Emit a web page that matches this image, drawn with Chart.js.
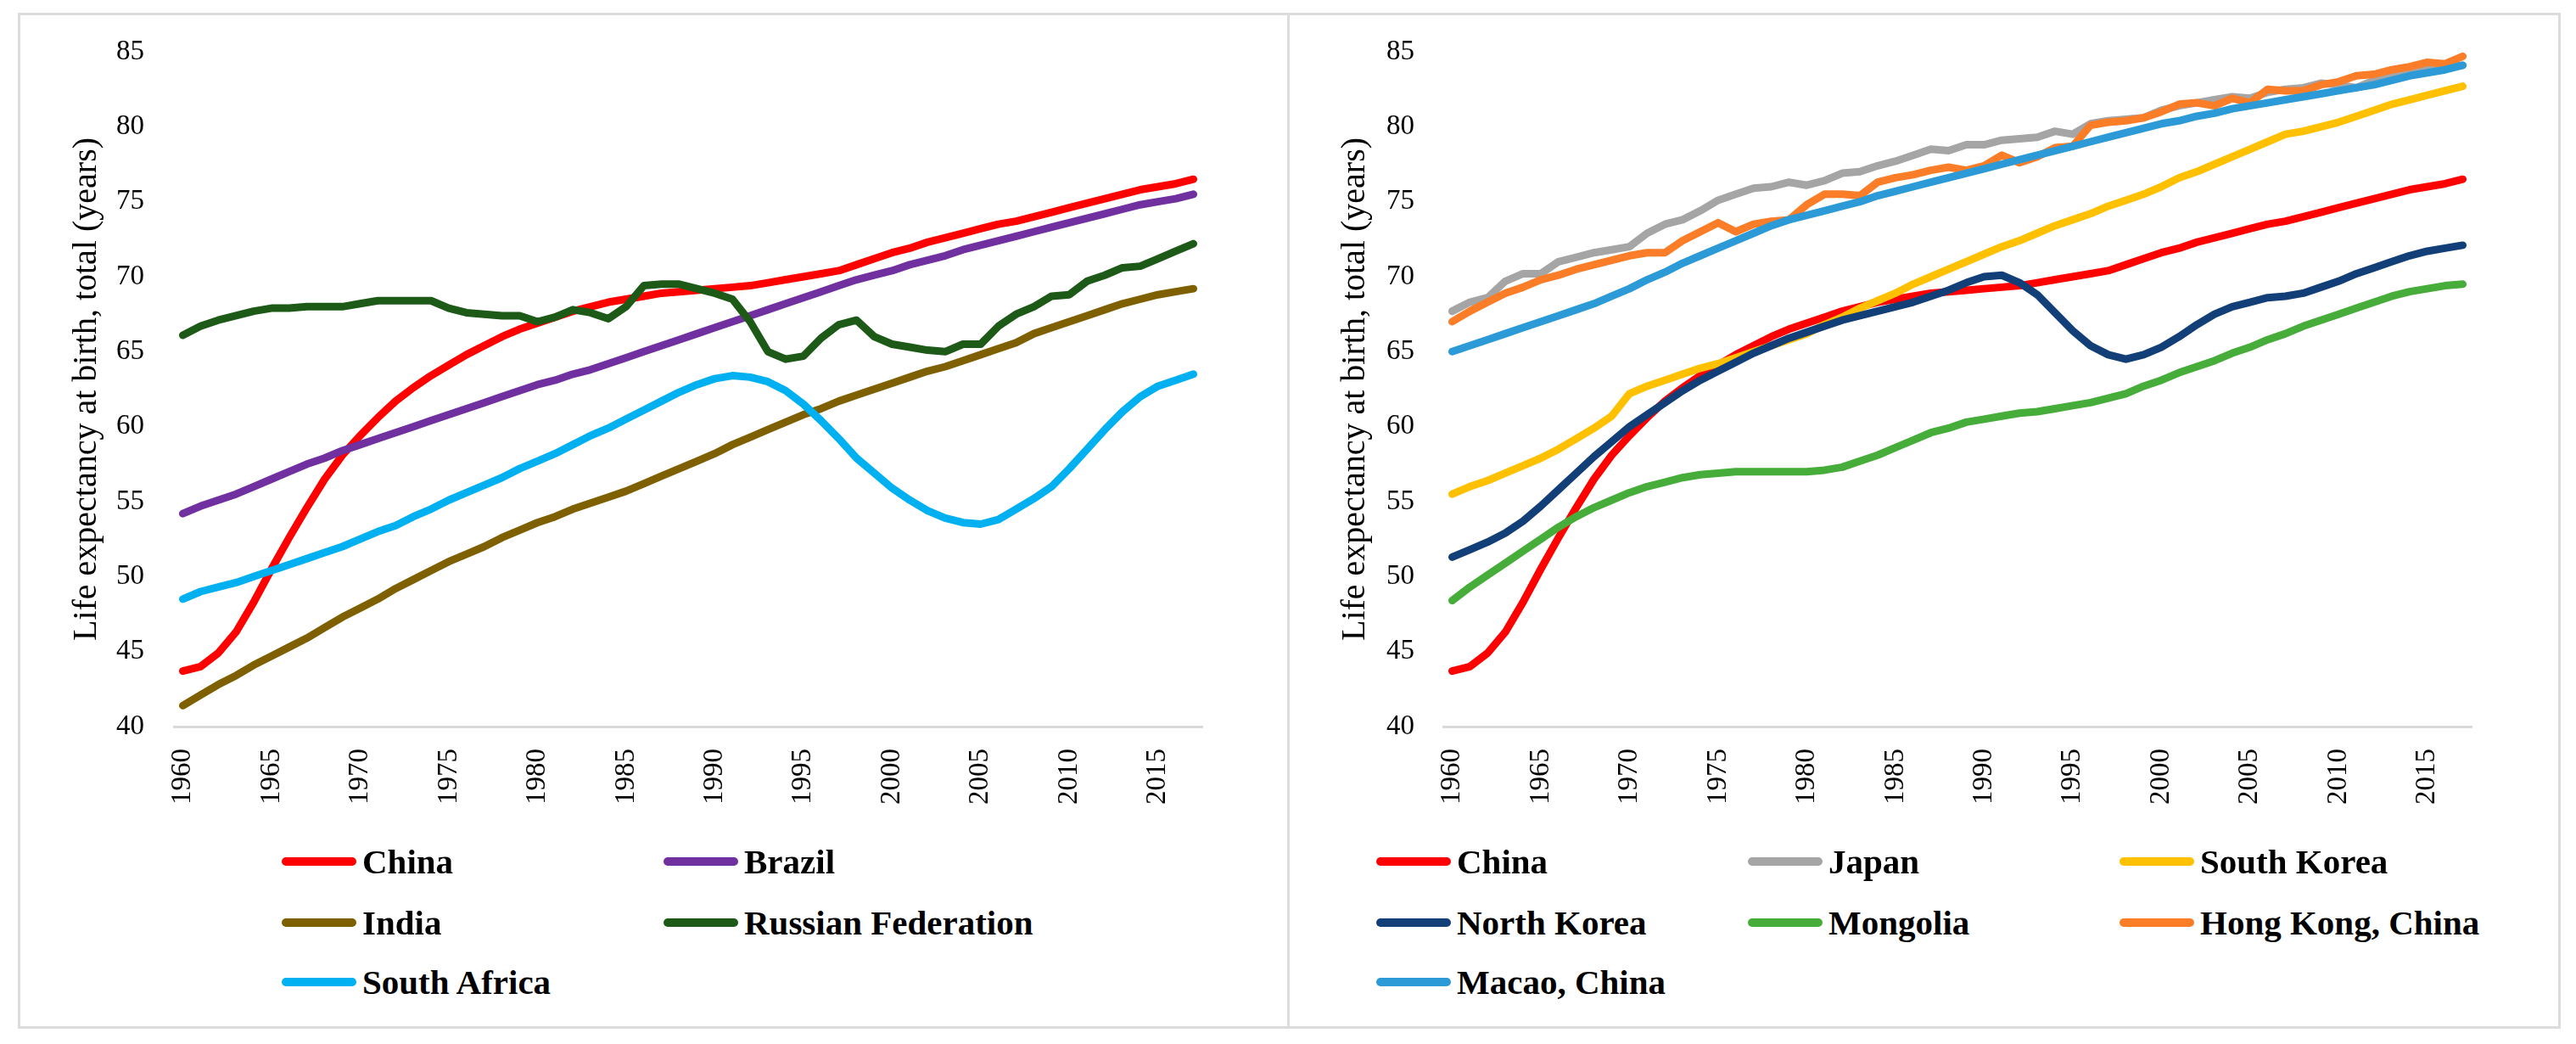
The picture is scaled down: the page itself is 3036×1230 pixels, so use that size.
<!DOCTYPE html>
<html>
<head>
<meta charset="utf-8">
<script src="https://cdn.jsdelivr.net/npm/chart.js@4.4.1/dist/chart.umd.min.js"></script>
<style>
  html, body { margin: 0; padding: 0; background: #ffffff; }
  body { width: 3036px; height: 1230px; position: relative; overflow: hidden; font-family: 'Liberation Serif', 'Times New Roman', serif; }
  .frame { position: absolute; left: 21px; top: 15px; width: 2997px; height: 1197px; border: 3px solid #dcdcdc; box-sizing: border-box; }
  .divider { position: absolute; left: 1517px; top: 15px; width: 3px; height: 1197px; background: #dcdcdc; }
  canvas { position: absolute; top: 0; }
  .leg { position: absolute; height: 50px; display: flex; align-items: center; white-space: nowrap; font-weight: bold; font-size: 41px; color: #000; }
  .leg .ln { display: inline-block; width: 88px; height: 10px; border-radius: 5px; margin-right: 7px; }
</style>
</head>
<body>
<div class="frame"></div>
<div class="divider"></div>
<canvas id="c1" width="1516" height="1000" style="left:0px;width:1516px;height:1000px"></canvas>
<canvas id="c2" width="1496" height="1000" style="left:1520px;width:1496px;height:1000px"></canvas>
<div id="legends"></div>
<script>
// ---------- DATA ----------
const years = ['1960','1961','1962','1963','1964','1965','1966','1967','1968','1969',
  '1970','1971','1972','1973','1974','1975','1976','1977','1978','1979',
  '1980','1981','1982','1983','1984','1985','1986','1987','1988','1989',
  '1990','1991','1992','1993','1994','1995','1996','1997','1998','1999',
  '2000','2001','2002','2003','2004','2005','2006','2007','2008','2009',
  '2010','2011','2012','2013','2014','2015','2016','2017'];
const xTickLabels = ['1960','1965','1970','1975','1980','1985','1990','1995','2000','2005','2010','2015'];
const axisTitle = 'Life expectancy at birth, total (years)';

const china = [43.7,44.0,44.9,46.3,48.3,50.5,52.6,54.6,56.5,58.1,
  59.4,60.6,61.7,62.6,63.4,64.1,64.8,65.4,66.0,66.5,
  66.9,67.3,67.7,68.0,68.3,68.5,68.7,68.9,69.0,69.1,
  69.2,69.3,69.4,69.6,69.8,70.0,70.2,70.4,70.8,71.2,
  71.6,71.9,72.3,72.6,72.9,73.2,73.5,73.7,74.0,74.3,
  74.6,74.9,75.2,75.5,75.8,76.0,76.2,76.5];
const brazil = [54.2,54.7,55.1,55.5,56.0,56.5,57.0,57.5,57.9,58.4,
  58.8,59.2,59.6,60.0,60.4,60.8,61.2,61.6,62.0,62.4,
  62.8,63.1,63.5,63.8,64.2,64.6,65.0,65.4,65.8,66.2,
  66.6,67.0,67.4,67.8,68.2,68.6,69.0,69.4,69.8,70.1,
  70.4,70.8,71.1,71.4,71.8,72.1,72.4,72.7,73.0,73.3,
  73.6,73.9,74.2,74.5,74.8,75.0,75.2,75.5];
const india = [41.4,42.1,42.8,43.4,44.1,44.7,45.3,45.9,46.6,47.3,
  47.9,48.5,49.2,49.8,50.4,51.0,51.5,52.0,52.6,53.1,
  53.6,54.0,54.5,54.9,55.3,55.7,56.2,56.7,57.2,57.7,
  58.2,58.8,59.3,59.8,60.3,60.8,61.2,61.7,62.1,62.5,
  62.9,63.3,63.7,64.0,64.4,64.8,65.2,65.6,66.2,66.6,
  67.0,67.4,67.8,68.2,68.5,68.8,69.0,69.2];
const russia = [66.1,66.7,67.1,67.4,67.7,67.9,67.9,68.0,68.0,68.0,
  68.2,68.4,68.4,68.4,68.4,67.9,67.6,67.5,67.4,67.4,
  67.0,67.3,67.8,67.6,67.2,68.0,69.4,69.5,69.5,69.2,
  68.9,68.5,67.0,65.0,64.5,64.7,65.9,66.8,67.1,66.0,
  65.5,65.3,65.1,65.0,65.5,65.5,66.7,67.5,68.0,68.7,
  68.8,69.7,70.1,70.6,70.7,71.2,71.7,72.2];
const southAfrica = [48.5,49.0,49.3,49.6,50.0,50.4,50.8,51.2,51.6,52.0,
  52.5,53.0,53.4,54.0,54.5,55.1,55.6,56.1,56.6,57.2,
  57.7,58.2,58.8,59.4,59.9,60.5,61.1,61.7,62.3,62.8,
  63.2,63.4,63.3,63.0,62.4,61.5,60.4,59.2,57.9,56.9,
  55.9,55.1,54.4,53.9,53.6,53.5,53.8,54.5,55.2,56.0,
  57.2,58.5,59.8,61.0,62.0,62.7,63.1,63.5];

const japan = [67.7,68.3,68.6,69.7,70.2,70.2,71.0,71.3,71.6,71.8,
  72.0,72.9,73.5,73.8,74.4,75.1,75.5,75.9,76.0,76.3,
  76.1,76.4,76.9,77.0,77.4,77.7,78.1,78.5,78.4,78.8,
  78.8,79.1,79.2,79.3,79.7,79.5,80.2,80.4,80.5,80.6,
  81.1,81.4,81.6,81.8,82.0,81.9,82.3,82.5,82.6,82.9,
  82.8,82.6,83.1,83.3,83.6,83.8,84.0,84.1];
const southKorea = [55.5,56.0,56.4,56.9,57.4,57.9,58.5,59.2,59.9,60.7,
  62.2,62.7,63.1,63.5,63.9,64.2,64.6,65.0,65.4,65.8,
  66.2,66.8,67.3,67.9,68.4,68.9,69.5,70.0,70.5,71.0,
  71.5,72.0,72.4,72.9,73.4,73.8,74.2,74.7,75.1,75.5,
  76.0,76.6,77.0,77.5,78.0,78.5,79.0,79.5,79.7,80.0,
  80.3,80.7,81.1,81.5,81.8,82.1,82.4,82.7];
const northKorea = [51.3,51.8,52.3,52.9,53.7,54.7,55.8,56.9,58.0,59.0,
  60.0,60.8,61.6,62.4,63.1,63.7,64.3,64.9,65.4,65.9,
  66.3,66.7,67.1,67.4,67.7,68.0,68.3,68.7,69.1,69.6,
  70.0,70.1,69.6,68.8,67.6,66.4,65.4,64.8,64.5,64.8,
  65.3,66.0,66.8,67.5,68.0,68.3,68.6,68.7,68.9,69.3,
  69.7,70.2,70.6,71.0,71.4,71.7,71.9,72.1];
const mongolia = [48.4,49.3,50.1,50.9,51.7,52.5,53.3,54.0,54.6,55.1,
  55.6,56.0,56.3,56.6,56.8,56.9,57.0,57.0,57.0,57.0,
  57.0,57.1,57.3,57.7,58.1,58.6,59.1,59.6,59.9,60.3,
  60.5,60.7,60.9,61.0,61.2,61.4,61.6,61.9,62.2,62.7,
  63.1,63.6,64.0,64.4,64.9,65.3,65.8,66.2,66.7,67.1,
  67.5,67.9,68.3,68.7,69.0,69.2,69.4,69.5];
const hongKong = [67.0,67.7,68.3,68.9,69.3,69.8,70.1,70.5,70.8,71.1,
  71.4,71.6,71.6,72.4,73.0,73.6,73.0,73.5,73.7,73.8,
  74.8,75.5,75.5,75.4,76.3,76.6,76.8,77.1,77.3,77.1,
  77.4,78.1,77.6,78.0,78.6,78.7,80.1,80.3,80.4,80.6,
  81.0,81.5,81.6,81.4,81.9,81.6,82.5,82.4,82.4,82.8,
  83.0,83.4,83.5,83.8,84.0,84.3,84.2,84.7];
const macao = [65.0,65.4,65.8,66.2,66.6,67.0,67.4,67.8,68.2,68.7,
  69.2,69.8,70.3,70.9,71.4,71.9,72.4,72.9,73.4,73.8,
  74.1,74.4,74.7,75.0,75.4,75.7,76.0,76.3,76.6,76.9,
  77.2,77.5,77.8,78.1,78.4,78.7,79.0,79.3,79.6,79.9,
  80.2,80.4,80.7,80.9,81.2,81.4,81.6,81.8,82.0,82.2,
  82.4,82.6,82.8,83.1,83.4,83.6,83.8,84.1];

const leftNames = ['China','Brazil','India','Russian Federation','South Africa'];
const leftColors = ['#ff0000','#7030a0','#7f6000','#1d5a17','#00b0f0'];
const leftValues = [china, brazil, india, russia, southAfrica];

const rightNames = ['China','Japan','South Korea','North Korea','Mongolia','Hong Kong, China','Macao, China'];
const rightColors = ['#ff0000','#a5a5a5','#ffc000','#133f78','#47ad3a','#fb7d28','#2c9ad6'];
const rightValues = [china, japan, southKorea, northKorea, mongolia, hongKong, macao];

// ---------- CHART ----------
const FONT = "'Liberation Serif', 'Times New Roman', serif";
Chart.defaults.color = '#000000';
Chart.defaults.font.family = FONT;

function makeChart(id, names, colors, values, cfg) {
  const datasets = names.map((n, i) => ({
    label: n,
    data: values[i],
    borderColor: colors[i],
    backgroundColor: colors[i],
    borderWidth: 9,
    pointRadius: 0,
    tension: 0,
    borderCapStyle: 'round',
    borderJoinStyle: 'round',
    fill: false,
    order: -i
  }));
  return new Chart(document.getElementById(id), {
    type: 'line',
    data: { labels: years, datasets },
    options: {
      responsive: false,
      animation: false,
      devicePixelRatio: 1,
      layout: { padding: { top: 61, left: 0, right: cfg.padRight, bottom: 0 } },
      plugins: { legend: { display: false }, tooltip: { enabled: false } },
      scales: {
        x: {
          type: 'category',
          offset: true,
          grid: { display: false, drawTicks: false },
          border: { display: true, color: '#d9d9d9', width: 3 },
          ticks: {
            autoSkip: false, maxRotation: 90, minRotation: 90, padding: 26,
            font: { size: 33, family: FONT }, color: '#000',
            callback: function (v, idx) { const l = years[idx]; return xTickLabels.includes(l) ? l : ''; }
          },
          afterFit: function (s) { s.height = 144; }
        },
        y: {
          min: 40, max: 85,
          grid: { display: false, drawTicks: false },
          border: { display: false },
          ticks: { stepSize: 5, padding: cfg.tickPad, font: { size: 33, family: FONT }, color: '#000' },
          title: {
            display: true, text: axisTitle, color: '#000',
            font: { size: 40, family: FONT }, padding: { top: cfg.titlePad, bottom: 0 }
          },
          afterFit: function (s) { s.width = cfg.yWidth; }
        }
      }
    }
  });
}

makeChart('c1', leftNames, leftColors, leftValues, { padRight: 99, tickPad: 35, titlePad: 78, yWidth: 205 });
makeChart('c2', rightNames, rightColors, rightValues, { padRight: 103, tickPad: 34, titlePad: 53, yWidth: 181 });

// ---------- LEGENDS (HTML text) ----------
const rowsY = [1015, 1087, 1157];
function makeLegend(names, colors, colX) {
  const host = document.getElementById('legends');
  const nCols = colX.length;
  names.forEach((n, i) => {
    const r = Math.floor(i / nCols), c = i % nCols;
    const d = document.createElement('div');
    d.className = 'leg';
    d.style.left = colX[c] + 'px';
    d.style.top = (rowsY[r] - 25) + 'px';
    const ln = document.createElement('span');
    ln.className = 'ln';
    ln.style.background = colors[i];
    const t = document.createElement('span');
    t.textContent = n;
    d.appendChild(ln); d.appendChild(t);
    host.appendChild(d);
  });
}
makeLegend(leftNames, leftColors, [332, 782]);
makeLegend(rightNames, rightColors, [1622, 2060, 2498]);
</script>
</body>
</html>
